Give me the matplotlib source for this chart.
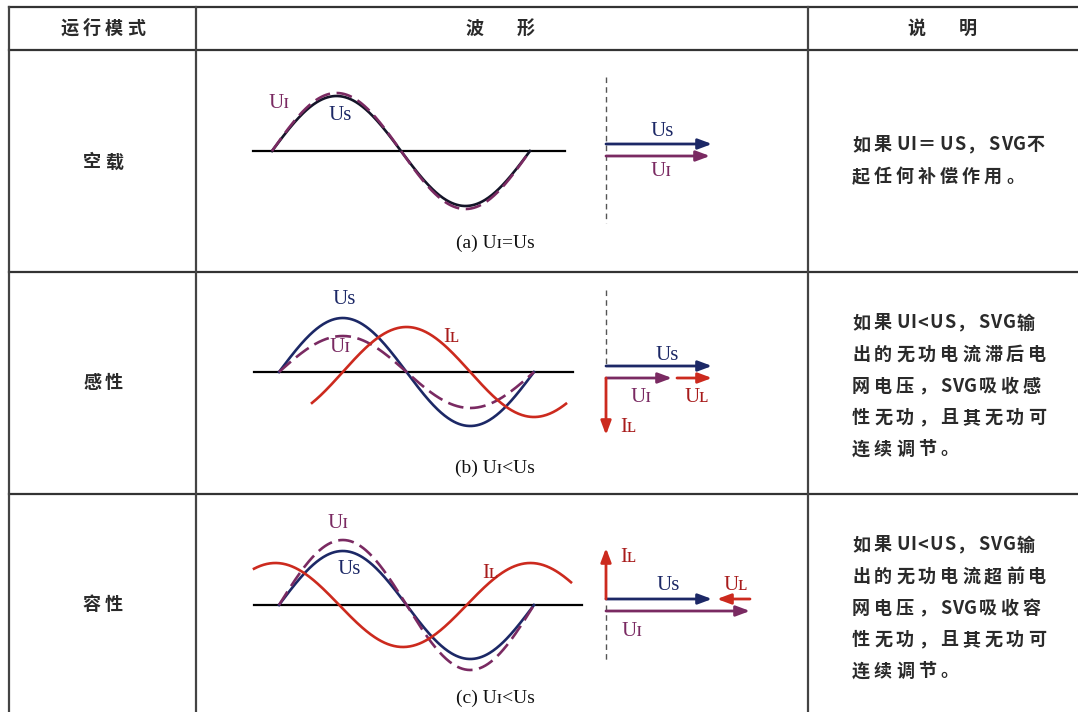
import numpy as np
import matplotlib
matplotlib.use("Agg")
import matplotlib.pyplot as plt

# ---- table text ----
headers = ["运行模式", "波　形", "说　明"]
header_x = [103, 500, 942]
header_gap = [4, 8, 8]
modes = ["空载", "感性", "容性"]
mode_y = [162, 383, 605]
captions = ["(a) Uɪ=Us", "(b) Uɪ<Us", "(c) Uɪ<Us"]
caption_y = [243, 468, 698]
notes = [
    ["如果UI＝US，SVG不", "起任何补偿作用。"],
    ["如果UI<US，SVG输", "出的无功电流滞后电", "网电压，SVG吸收感", "性无功，且其无功可", "连续调节。"],
    ["如果UI<US，SVG输", "出的无功电流超前电", "网电压，SVG吸收容", "性无功，且其无功可", "连续调节。"],
]
note_top = [145, 323, 545]
note_step = 31.5

# table grid (pixels)
row_lines = [7, 50, 272, 494]
col_lines = [9, 196, 808]

# ---- waveforms (pixel units) ----
axis_y = [151, 372, 605]
axis_span = [(253, 565), (254, 573), (254, 582)]
wave_start = [272, 279, 279]
wave_end = [530, 534, 534]
us_amp = [55, 54, 54]
ui_amp = [58, 36, 65]
il_amp = [0, 45, 42]
il_shift = [0, -90, 95]          # degrees relative to Us
il_span = [None, (312, 566), (254, 571)]

# ---- phasors ----
ph_x = 606
us_y = [144, 366, 599]
us_len = [106, 106, 106]
ui_len = [104, 66, 144]
ui_gap = 12
ul_arrow = [None, (677, 712), (750, 717)]   # start, end along UI / Us line
il_len = [0, -57, 51]
dash_span = [(77, 223), (290, 366), (605, 662)]

NAVY = "#1c2866"
PURPLE = "#7a2a62"
RED = "#cc2a1e"
DRED = "#a81c1c"
CJK = ["Noto Sans CJK SC", "DejaVu Sans"]
SERIF = ["Liberation Serif", "DejaVu Serif"]

fig = plt.figure(figsize=(10.78, 7.12), dpi=100)
ax = fig.add_axes([0, 0, 1, 1])
ax.set_xlim(0, 1078)
ax.set_ylim(712, 0)
ax.axis("off")
renderer = fig.canvas.get_renderer()


def spaced(x, y, s, size=13, gap=4.0, center=False, weight="bold"):
    # draw char by char so the wide letter spacing of the original is kept
    widths = []
    for ch in s:
        t = ax.text(0, 0, ch, fontsize=size, family=CJK, fontweight=weight)
        widths.append(t.get_window_extent(renderer).width)
        t.remove()
    adv = [w + (gap if ord(ch) > 0x2000 else 1.0) for ch, w in zip(s, widths)]
    if center:
        x = x - (sum(adv) - adv[-1] + widths[-1]) / 2
    for ch, a in zip(s, adv):
        ax.text(x, y, ch, fontsize=size, family=CJK, fontweight=weight,
                va="center", ha="left", color="#2a2a2a")
        x += a


def label(x, y, s, color, size=15):
    ax.text(x, y, s, fontsize=size, family=SERIF, color=color, ha="center", va="center")


def arrow(x0, y0, x1, y1, color):
    ax.annotate("", xy=(x1, y1), xytext=(x0, y0),
                arrowprops=dict(arrowstyle="-|>,head_length=0.75,head_width=0.28",
                                lw=2, color=color, shrinkA=0, shrinkB=0, mutation_scale=11))


# grid
for y in row_lines:
    ax.plot([col_lines[0], 1078], [y, y], color="#333333", lw=1.6)
for x in col_lines:
    ax.plot([x, x], [row_lines[0], 712], color="#444444", lw=1.6)

for x, h, g in zip(header_x, headers, header_gap):
    spaced(x, 28, h, gap=g, center=True)
for y, m in zip(mode_y, modes):
    spaced(103, y, m, center=True)
for lines, y0 in zip(notes, note_top):
    for i, ln in enumerate(lines):
        spaced(852, y0 + i * note_step, ln)

for i in range(3):
    y0 = axis_y[i]
    ax.plot(axis_span[i], [y0, y0], color="black", lw=1.6)
    period = wave_end[i] - wave_start[i]
    x = np.linspace(wave_start[i], wave_end[i], 300)
    th = 2 * np.pi * (x - wave_start[i]) / period
    ax.plot(x, y0 - us_amp[i] * np.sin(th), color=NAVY if i else "#141428", lw=1.9)
    ax.plot(x, y0 - ui_amp[i] * np.sin(th), color=PURPLE, lw=1.9, dashes=(6, 2.5))
    if il_amp[i]:
        xl = np.linspace(il_span[i][0], il_span[i][1], 300)
        tl = 2 * np.pi * (xl - wave_start[i]) / period + np.radians(il_shift[i])
        ax.plot(xl, y0 - il_amp[i] * np.sin(tl), color=RED, lw=1.9)
    label(495, caption_y[i], captions[i], "#111111", size=14)

    # phasor diagram
    ax.plot([ph_x, ph_x], dash_span[i], color="#555555", lw=1, dashes=(4, 3))
    yu = us_y[i]
    arrow(ph_x, yu, ph_x + us_len[i], yu, NAVY)
    arrow(ph_x, yu + ui_gap, ph_x + ui_len[i], yu + ui_gap, PURPLE)
    if ul_arrow[i]:
        yl = yu + ui_gap if i == 1 else yu
        arrow(ul_arrow[i][0], yl, ul_arrow[i][1], yl, RED)
    if il_len[i]:
        ys = yu + ui_gap if i == 1 else yu
        arrow(ph_x, ys, ph_x, ys - il_len[i], RED)

# waveform labels
label(279, 104, "Uɪ", PURPLE)
label(340, 115, "Us", NAVY)
label(662, 132, "Us", NAVY)
label(661, 172, "Uɪ", PURPLE)

label(344, 300, "Us", NAVY)
label(340, 348, "Uɪ", PURPLE)
label(451, 337, "Iʟ", DRED)
label(667, 356, "Us", NAVY)
label(641, 397, "Uɪ", PURPLE)
label(697, 397, "Uʟ", DRED)
label(628, 428, "Iʟ", DRED)

label(338, 523, "Uɪ", PURPLE)
label(349, 570, "Us", NAVY)
label(490, 574, "Iʟ", DRED)
label(628, 557, "Iʟ", DRED)
label(668, 585, "Us", NAVY)
label(736, 585, "Uʟ", DRED)
label(632, 632, "Uɪ", PURPLE)

fig.savefig("out.png", dpi=100)
